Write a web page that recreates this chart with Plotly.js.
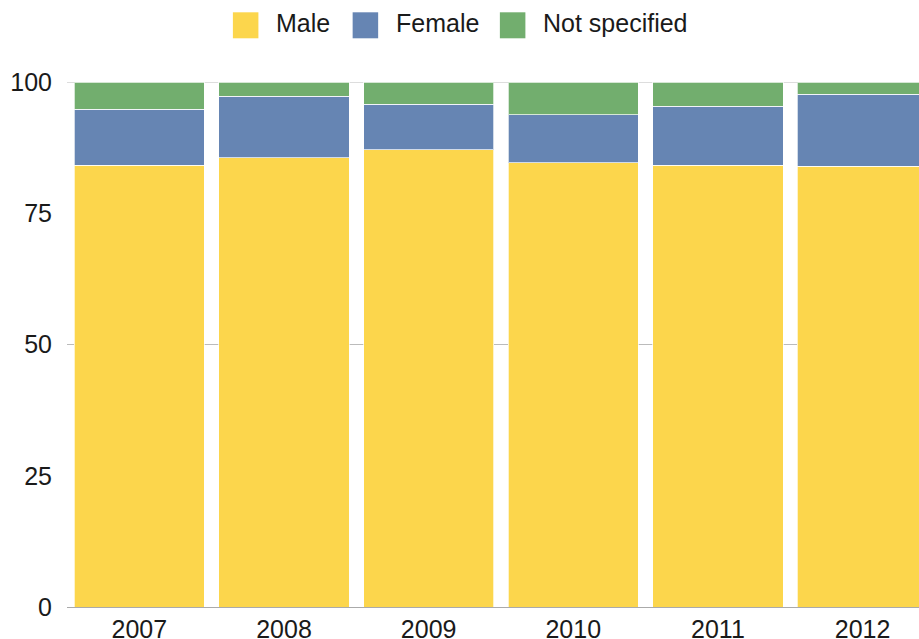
<!DOCTYPE html>
<html>
<head>
<meta charset="utf-8">
<script src="https://cdn.plot.ly/plotly-3.0.1.min.js"></script>
<style>html,body{margin:0;padding:0;background:#fff;}#chart{width:919px;height:639px;}</style>
</head>
<body>
<div id="chart"></div>
<script>
const years = ["2007", "2008", "2009", "2010", "2011", "2012"];
const male = [84.1, 85.6, 87.1, 84.6, 84.1, 84.0];
const female = [10.7, 11.7, 8.7, 9.2, 11.3, 13.7];
const notSpecified = [5.2, 2.7, 4.2, 6.2, 4.6, 2.3];
const seriesNames = ["Male", "Female", "Not specified"];
const seriesColors = ["#FCD64C", "#6685B3", "#72AE6E"];
const yTicks = [0, 25, 50, 75, 100];
const gridValues = [50, 100];

const seriesData = [male, female, notSpecified];
const traces = seriesData.map((vals, i) => ({
  type: "bar",
  name: seriesNames[i],
  x: years,
  y: vals,
  marker: {color: seriesColors[i], line: {color: "rgba(255,255,255,0.7)", width: 1}},
  hoverinfo: "x+y+name"
}));

const font = {family: "Liberation Sans, Arial, Helvetica, sans-serif", size: 25, color: "#1a1a1a"};

// custom legend (big square swatches)
const legendX = [236, 358, 508];
const shapes = [];
const annotations = [];
seriesNames.forEach((n, i) => {
  shapes.push({type: "rect", xref: "paper", yref: "paper",
    x0: (legendX[i] - 67) / 868, x1: (legendX[i] + 26 - 67) / 868,
    y0: (606.7 - 12) / 525, y1: (606.7 - 38) / 525,
    fillcolor: seriesColors[i], line: {width: 0}});
  annotations.push({xref: "paper", yref: "paper", x: (legendX[i] + 42 - 67) / 868,
    y: (606.7 - 23) / 525, xanchor: "left", yanchor: "middle", showarrow: false,
    text: n, font: font});
});
gridValues.forEach(v => {
  shapes.push({type: "line", xref: "paper", yref: "y", x0: 0, x1: 1, y0: v, y1: v,
    line: {color: "#bbbbbb", width: 1}, layer: "below"});
});

const layout = {
  width: 919, height: 639,
  margin: {l: 67, r: 0, t: 82, b: 32, pad: 0},
  barmode: "stack",
  bargap: 0.1,
  showlegend: false,
  paper_bgcolor: "#fff",
  plot_bgcolor: "#fff",
  font: font,
  xaxis: {type: "category", range: [-0.5, 5.39], showgrid: false, zeroline: false,
    showline: true, linecolor: "#aaaaaa", linewidth: 1, ticks: "", tickfont: font,
    fixedrange: true},
  yaxis: {range: [0, 100], tickvals: yTicks, ticktext: yTicks.map(String), showgrid: false,
    zeroline: false, showline: false, ticks: "", tickfont: font, ticklabelstandoff: 14,
    fixedrange: true},
  shapes: shapes,
  annotations: annotations
};

Plotly.newPlot("chart", traces, layout, {displayModeBar: false, staticPlot: true});
</script>
</body>
</html>
